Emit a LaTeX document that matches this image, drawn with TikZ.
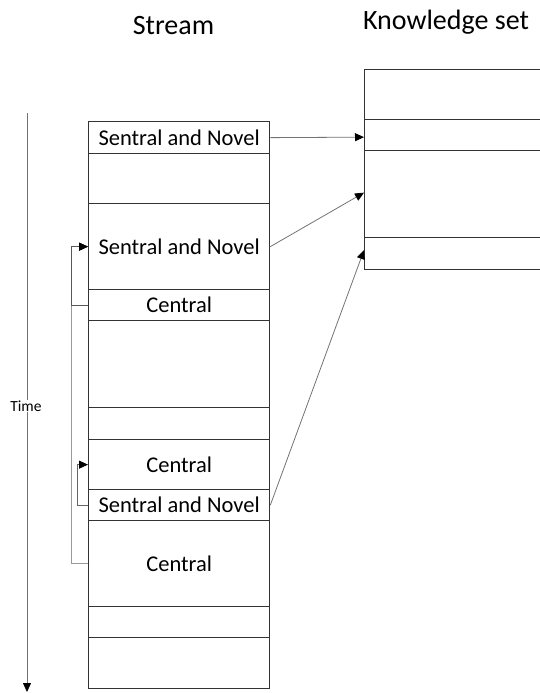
\documentclass[tikz,border=0pt]{standalone}
\usepackage{fontspec}
\setmainfont{Carlito}
\usetikzlibrary{arrows.meta}
\begin{document}
\begin{tikzpicture}[x=1pt,y=-1pt,
  cell/.style={draw=black!80,line width=1.3pt,rectangle,inner sep=0pt,
    anchor=north west,minimum width=181pt,font=\fontsize{22.5}{26}\selectfont},
  kcell/.style={draw=black!80,line width=1.3pt,rectangle,inner sep=0pt,
    anchor=north west,minimum width=190pt},
  link/.style={draw=black!55,line width=0.8pt,
    -{Triangle[length=9pt,width=8pt,color=black]}},
  title/.style={font=\fontsize{28}{32}\selectfont,anchor=base,inner sep=0pt}]
\useasboundingbox (0,0) rectangle (540,693);
\clip (0,0) rectangle (540,693);

% column titles
\node[title] (ts) at (173.5,35) {Stream};
\node[title] (tk) at (446,30) {Knowledge set};

% stream rows
\node[cell,minimum height=32pt] (r1) at (88,121) {Sentral and Novel};
\node[cell,minimum height=50pt] (r2) at (88,153) {};
\node[cell,minimum height=86pt] (r3) at (88,203) {Sentral and Novel};
\node[cell,minimum height=31pt] (r4) at (88,289) {Central};
\node[cell,minimum height=87pt] (r5) at (88,320) {};
\node[cell,minimum height=32pt] (r6) at (88,407) {};
\node[cell,minimum height=50pt] (r7) at (88,439) {Central};
\node[cell,minimum height=31pt] (r8) at (88,489) {Sentral and Novel};
\node[cell,minimum height=86pt] (r9) at (88,520) {Central};
\node[cell,minimum height=31pt] (r10) at (88,606) {};
\node[cell,minimum height=51pt] (r11) at (88,637) {};

% knowledge set rows
\node[kcell,minimum height=50pt] (k1) at (364,69) {};
\node[kcell,minimum height=31pt] (k2) at (364,119) {};
\node[kcell,minimum height=87pt] (k3) at (364,150) {};
\node[kcell,minimum height=32pt] (k4) at (364,237) {};

% items passed into the knowledge set
\draw[link] (r1.east) -- ([yshift=-2pt]k2.west);
\draw[link] (r3.east) -- ([yshift=1.5pt]k3.west);
\draw[link] (r8.east) -- ([yshift=3.5pt]k4.west);

% feedback within the stream
\draw[link,draw=black!40] (r9.west) -- ++(-17,0) |- (r3.west);
\draw[link,draw=black!65] (r4.west) -- ++(-17,0) |- (r3.west);
\draw[link,draw=black!60] (r8.west) -- ++(-11,0) |- (r7.west);

% time axis
\coordinate (t0) at (27,113);
\coordinate (t1) at (27,692);
\draw[link,draw=black!55] (t0) -- (t1);
\node[fill=white,inner sep=1pt,font=\fontsize{15.5}{18}\selectfont] (time) at (26,406) {Time};
\end{tikzpicture}
\end{document}
